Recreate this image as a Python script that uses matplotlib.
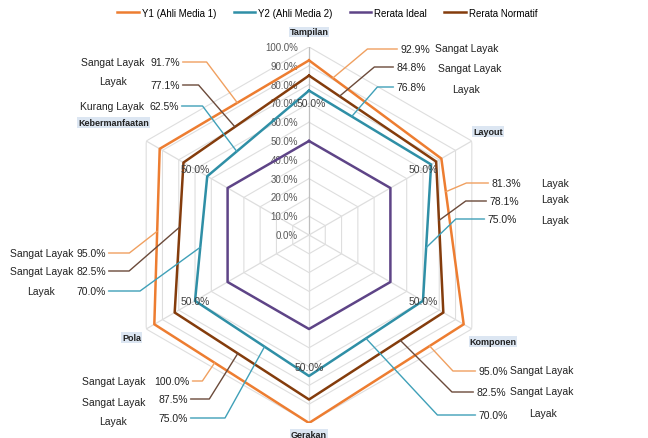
import numpy as np
import matplotlib
matplotlib.use("Agg")
import matplotlib.pyplot as plt

plt.rcParams["font.family"] = "Liberation Sans"

categories = ["Tampilan", "Layout", "Komponen", "Gerakan", "Pola", "Kebermanfaatan"]
y1 = [92.9, 81.3, 95.0, 100.0, 95.0, 91.7]
y2 = [76.8, 75.0, 70.0, 75.0, 70.0, 62.5]
ideal = [50.0, 50.0, 50.0, 50.0, 50.0, 50.0]
normatif = [84.8, 78.1, 82.5, 87.5, 82.5, 77.1]

y1_kriteria = ["Sangat Layak", "Layak", "Sangat Layak", "Sangat Layak", "Sangat Layak", "Sangat Layak"]
y2_kriteria = ["Layak", "Layak", "Layak", "Layak", "Layak", "Kurang Layak"]
normatif_kriteria = ["Sangat Layak", "Layak", "Sangat Layak", "Sangat Layak", "Sangat Layak", "Layak"]

c_y1 = "#ED7D31"
c_y2 = "#2F8FA6"
c_ideal = "#5E4487"
c_norm = "#843C0C"
grid_c = "#dedede"

W, H = 648, 439
fig = plt.figure(figsize=(W / 100, H / 100), dpi=100)
cx, cy, R = 309, 236, 188
ax = fig.add_axes([(cx - R) / W, (H - cy - R) / H, 2 * R / W, 2 * R / H], polar=True)
ax.set_theta_zero_location("N")
ax.set_theta_direction(-1)
ax.set_ylim(0, 100)
ax.set_frame_on(False)
ax.grid(False)
ax.set_xticks([])
ax.set_yticks([])

n = len(categories)
theta = np.deg2rad(np.arange(n) * 360 / n)
theta_c = np.append(theta, theta[0])

# hexagonal grid
for lvl in range(10, 101, 10):
    ax.plot(theta_c, [lvl] * (n + 1), color=grid_c, lw=0.8, zorder=1)
for i, t in enumerate(theta):
    ax.plot([t, t], [0, 100], color="#bfbfbf" if i == 0 else grid_c, lw=0.9, zorder=1)

# radial tick labels
for lvl in range(0, 101, 10):
    ax.annotate(f"{lvl:.1f}%", xy=(0, lvl), xytext=(-11, 0), textcoords="offset pixels",
                ha="right", va="center", fontsize=7, color="#595959", zorder=2)

series = [
    ("Y1 (Ahli Media 1)", y1, c_y1),
    ("Y2 (Ahli Media 2)", y2, c_y2),
    ("Rerata Ideal", ideal, c_ideal),
    ("Rerata Normatif", normatif, c_norm),
]
handles = []
for name, vals, col in series:
    h, = ax.plot(theta_c, vals + vals[:1], color=col, lw=1.8, zorder=3, label=name)
    handles.append(h)

# 50.0% labels of Rerata Ideal
for k, (t, v) in enumerate(zip(theta, ideal)):
    ax.annotate(f"{v:.1f}%", xy=(t, 70), xytext=(2 if k == 0 else 0, 0), textcoords="offset pixels",
                ha="center", va="center", fontsize=7.5, color="#404040", zorder=4)

# category labels
cat_r = [108, 110, 113, 106, 109, 120]
for t, name, r in zip(theta, categories, cat_r):
    ax.text(t, r, name, ha="center", va="center", fontsize=6.5, fontweight="bold",
            color="#222222", clip_on=False,
            bbox=dict(boxstyle="square,pad=0.1", fc="#dce6f2", ec="none"))

# legend
fig.legend(handles=handles, loc="upper center", bbox_to_anchor=(0.505, 1.0), ncol=4,
           frameon=False, fontsize=7, handlelength=2.2, columnspacing=1.8, handletextpad=0.3)


def to_xy(r, t):
    return np.array([r * np.sin(t), r * np.cos(t)])


def anchor(vals, i, j, f):
    p = to_xy(vals[i], theta[i]) + f * (to_xy(vals[j], theta[j]) - to_xy(vals[i], theta[i]))
    return (np.arctan2(p[0], p[1]), np.hypot(p[0], p[1]))


# (category idx, edge from, edge to, fraction, pct x, y, kriteria x, angle)
lead = {
    "y1": [(0, 0, 1, 0.18, 415, 50, 467, 40), (1, 1, 2, 0.20, 506, 184, 555, 23),
           (2, 3, 2, 0.78, 493, 372, 542, -47), (3, 3, 4, 0.61, 172, 382, 114, 236),
           (4, 4, 5, 0.53, 91, 254, 42, 218), (5, 0, 5, 0.48, 165, 63, 113, 127)],
    "norm": [(0, 0, 1, 0.24, 411, 68, 470, 40), (1, 1, 2, 0.39, 504, 202, 555, 36),
             (2, 3, 2, 0.68, 491, 393, 542, -45), (3, 3, 4, 0.53, 173, 400, 114, 238),
             (4, 4, 5, 0.57, 91, 272, 42, 221), (5, 0, 5, 0.59, 165, 86, 113, 131)],
    "y2": [(0, 0, 1, 0.35, 411, 88, 466, 49), (1, 1, 2, 0.61, 502, 220, 555, 44),
           (2, 3, 2, 0.50, 493, 416, 543, -47), (3, 3, 4, 0.39, 173, 419, 113, 241),
           (4, 4, 5, 0.43, 91, 292, 41, 216), (5, 0, 5, 0.71, 164, 107, 112, 127)],
}
crit_y = {"y1": [49, 184, 371, 382, 254, 63], "norm": [69, 200, 392, 403, 272, 82],
          "y2": [90, 221, 414, 422, 292, 107]}
info = {"y1": (y1, y1_kriteria, c_y1, "#F0A060"),
        "norm": (normatif, normatif_kriteria, c_norm, "#6B4A3A"),
        "y2": (y2, y2_kriteria, c_y2, "#3FA0B8")}

for key, rows in lead.items():
    vals, krit, col, lcol = info[key]
    for k, (ci, i, j, f, px, py, kx, ang) in enumerate(rows):
        ax.annotate(f"{vals[ci]:.1f}%", xy=anchor(vals, i, j, f), xytext=(px, H - py),
                    textcoords="figure pixels", ha="center", va="center", fontsize=7.5,
                    color="#222222", annotation_clip=False, zorder=5,
                    arrowprops=dict(arrowstyle="-", color=lcol, lw=1.0, shrinkA=0, shrinkB=0,
                                    connectionstyle=f"angle,angleA=0,angleB={ang},rad=0"))
        fig.text(kx / W, 1 - crit_y[key][ci] / H, krit[ci], ha="center", va="center",
                 fontsize=7.5, color="#222222")

fig.savefig("out.png", dpi=100)
